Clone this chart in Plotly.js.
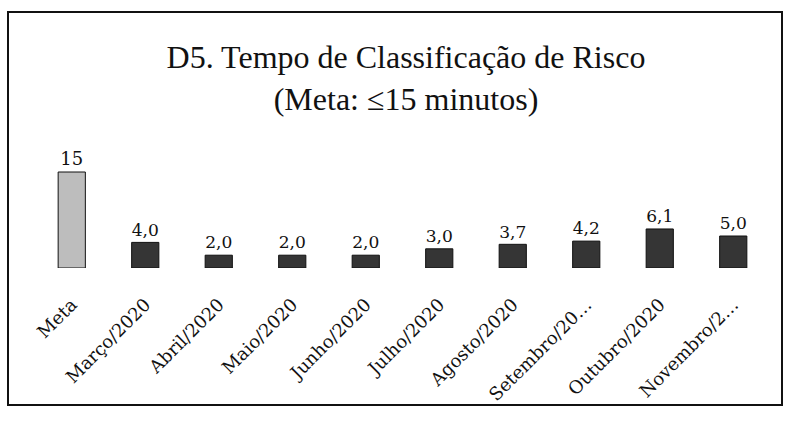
<!DOCTYPE html>
<html><head><meta charset="utf-8">
<script src="https://cdn.plot.ly/plotly-3.0.1.min.js"></script>
<style>html,body{margin:0;padding:0;background:#fff}#chart{width:785px;height:423px}</style>
</head><body><div id="chart"></div>
<script>
const categories = ["Meta","Março/2020","Abril/2020","Maio/2020","Junho/2020","Julho/2020","Agosto/2020","Setembro/20…","Outubro/2020","Novembro/2…"];
const values = [15, 4.0, 2.0, 2.0, 2.0, 3.0, 3.7, 4.2, 6.1, 5.0];
const barColors = ["#bdbdbd","#353535","#353535","#353535","#353535","#353535","#353535","#353535","#353535","#353535"];
const labelFormats = ["%{y}","%{y:.1f}","%{y:.1f}","%{y:.1f}","%{y:.1f}","%{y:.1f}","%{y:.1f}","%{y:.1f}","%{y:.1f}","%{y:.1f}"];

const titleFont = "Liberation Serif, DejaVu Serif, serif";
const labelFont = "DejaVu Serif, Liberation Serif, serif";
const L = 35, R = 15, T = 140, B = 155;
const W = 785 - L - R, H = 423 - T - B;
const px = x => (x - L) / W;
const py = y => (423 - B - y) / H;

Plotly.newPlot("chart", [{
  type: "bar",
  x: categories,
  y: values,
  marker: {color: barColors, line: {color: "#111", width: 1}},
  width: 0.37,
  texttemplate: labelFormats,
  textposition: "outside",
  cliponaxis: false,
  textfont: {family: labelFont, size: 18, color: "#111"},
  hoverinfo: "none"
}], {
  width: 785, height: 423,
  margin: {l: L, r: R, t: T, b: B, pad: 0},
  paper_bgcolor: "#fff", plot_bgcolor: "#fff",
  separators: ",.",
  showlegend: false,
  title: {
    text: "D5. Tempo de Classificação de Risco<br>(Meta: ≤15 minutos)",
    font: {family: titleFont, size: 32, color: "#111"},
    x: 406 / 785, xanchor: "center", xref: "container",
    y: 1 - 68 / 423, yanchor: "middle", yref: "container"
  },
  xaxis: {
    type: "category",
    tickangle: -45,
    tickfont: {family: labelFont, size: 18, color: "#111"},
    ticks: "outside", ticklen: 18, tickcolor: "rgba(0,0,0,0)",
    showline: false, showgrid: false, zeroline: false, fixedrange: true
  },
  yaxis: {
    range: [0, 20], visible: false, showgrid: false, zeroline: false, fixedrange: true
  },
  shapes: [{
    type: "rect", xref: "paper", yref: "paper",
    x0: px(8), x1: px(782), y0: py(405), y1: py(12),
    line: {color: "#111", width: 2}, fillcolor: "rgba(0,0,0,0)", layer: "below"
  }]
}, {staticPlot: true});
</script></body></html>
